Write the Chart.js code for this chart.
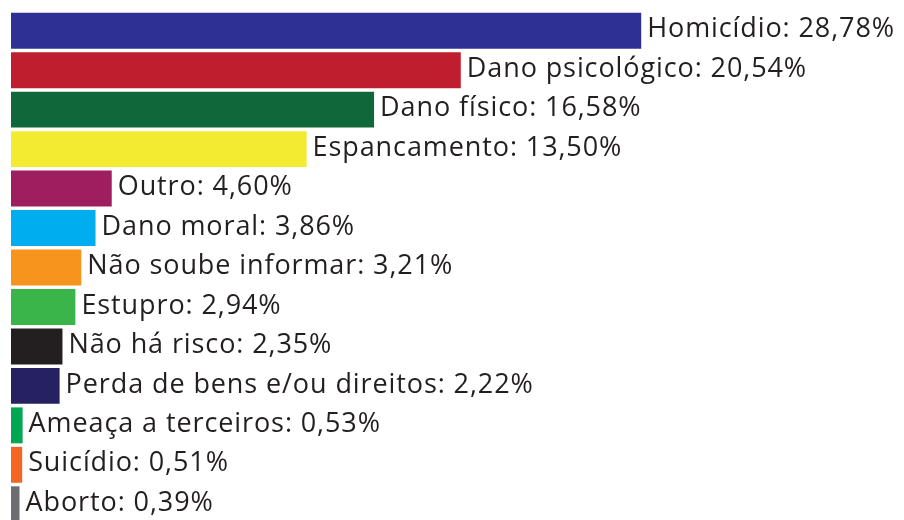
<!DOCTYPE html>
<html>
<head>
<meta charset="utf-8">
<script src="https://cdn.jsdelivr.net/npm/chart.js@4"></script>
<style>
  html, body { margin: 0; padding: 0; background: #fff; overflow: hidden; }
  #wrap { width: 904px; height: 524px; position: relative; }
</style>
</head>
<body>
<div id="wrap"><canvas id="myChart"></canvas></div>
<script>
const categorias = ['Homicídio', 'Dano psicológico', 'Dano físico', 'Espancamento', 'Outro',
  'Dano moral', 'Não soube informar', 'Estupro', 'Não há risco',
  'Perda de bens e/ou direitos', 'Ameaça a terceiros', 'Suicídio', 'Aborto'];
const valores = [28.78, 20.54, 16.58, 13.50, 4.60, 3.86, 3.21, 2.94, 2.35, 2.22, 0.53, 0.51, 0.39];
const cores = ['#2e3192', '#be1e2d', '#0f6839', '#f2eb30', '#9e1f5f', '#00aeef', '#f7941d',
  '#39b54a', '#231f20', '#262262', '#00a651', '#f26522', '#6d6e71'];

// rotulo no fim de cada barra
const rotulos = {
  id: 'rotulos',
  afterDatasetsDraw(chart) {
    const ctx = chart.ctx;
    const meta = chart.getDatasetMeta(0);
    ctx.save();
    ctx.font = '27px "Open Sans"';
    ctx.letterSpacing = '0.9px';
    ctx.fillStyle = '#231f20';
    ctx.textBaseline = 'middle';
    ctx.textAlign = 'left';
    meta.data.forEach((bar, i) => {
      const txt = categorias[i] + ': ' + valores[i].toFixed(2).replace('.', ',') + '%';
      ctx.fillText(txt, bar.x + 6, bar.y - 1);
    });
    ctx.restore();
  }
};

new Chart(document.getElementById('myChart'), {
  type: 'bar',
  data: {
    labels: categorias,
    datasets: [{
      data: valores,
      backgroundColor: cores,
      borderWidth: 0,
      barPercentage: 0.91,
      categoryPercentage: 1
    }]
  },
  options: {
    indexAxis: 'y',
    responsive: true,
    maintainAspectRatio: false,
    animation: false,
    layout: { padding: { left: 11, top: 11, right: 0, bottom: 0 } },
    plugins: { legend: { display: false }, tooltip: { enabled: false } },
    scales: {
      x: { display: false, min: 0, max: 40.78 },
      y: { display: false }
    }
  },
  plugins: [rotulos]
});
</script>
</body>
</html>
